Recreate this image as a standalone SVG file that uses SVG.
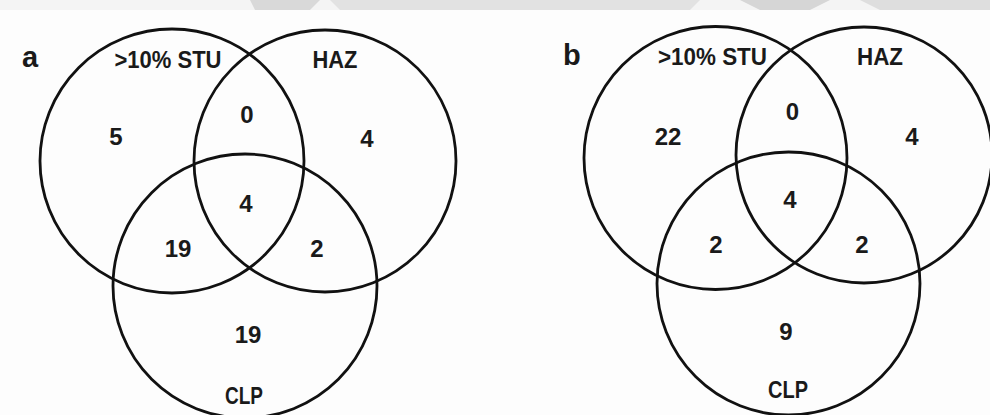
<svg xmlns="http://www.w3.org/2000/svg" width="990" height="415" viewBox="0 0 990 415">
<style>
.c{fill:none;stroke:#111;stroke-width:2.8}
.t{font-family:"Liberation Sans",Arial,sans-serif;font-weight:bold;font-size:24px;fill:#1a1a1a;text-anchor:middle}
.p{font-family:"Liberation Sans",Arial,sans-serif;font-weight:bold;font-size:29px;fill:#1a1a1a}
</style>
<rect width="990" height="415" fill="#fdfdfd"/>
<g id="watermark">
<rect x="0" y="0" width="990" height="10" fill="#f4f4f4"/>
<polygon points="250,0 320,0 310,10 255,10" fill="#d9d9d9"/>
<polygon points="330,0 700,0 690,10 340,10" fill="#e2e2e2"/>
<polygon points="740,0 830,0 810,10 760,10" fill="#d6d6d6"/>
<polygon points="860,0 990,0 990,10 880,10" fill="#dedede"/>
</g>
<g id="panel-a">
<text class="p" x="22" y="67">a</text>
<g id="a-stu"><circle class="c" cx="172" cy="161" r="132"/><text class="t" x="168" y="68" textLength="107" lengthAdjust="spacingAndGlyphs">&gt;10% STU</text></g>
<g id="a-haz"><circle class="c" cx="325" cy="161" r="131"/><text class="t" x="335" y="68" textLength="45" lengthAdjust="spacingAndGlyphs">HAZ</text></g>
<g id="a-clp"><circle class="c" cx="245" cy="286" r="132"/><text class="t" x="244" y="404" textLength="38" lengthAdjust="spacingAndGlyphs">CLP</text></g>
<g id="a-values">
<text class="t" x="116" y="145">5</text>
<text class="t" x="247" y="123">0</text>
<text class="t" x="367" y="147">4</text>
<text class="t" x="246" y="212">4</text>
<text class="t" x="178" y="257">19</text>
<text class="t" x="317" y="257">2</text>
<text class="t" x="248" y="343">19</text>
</g>
</g>
<g id="panel-b">
<text class="p" x="563" y="65">b</text>
<g id="b-stu"><circle class="c" cx="715.5" cy="158" r="131.5"/><text class="t" x="712.5" y="65" textLength="109" lengthAdjust="spacingAndGlyphs">&gt;10% STU</text></g>
<g id="b-haz"><circle class="c" cx="864" cy="155" r="128"/><text class="t" x="880" y="65" textLength="46" lengthAdjust="spacingAndGlyphs">HAZ</text></g>
<g id="b-clp"><circle class="c" cx="788.5" cy="283.5" r="131.5"/><text class="t" x="788" y="398" textLength="40" lengthAdjust="spacingAndGlyphs">CLP</text></g>
<g id="b-values">
<text class="t" x="668" y="145">22</text>
<text class="t" x="792.5" y="120">0</text>
<text class="t" x="912" y="145">4</text>
<text class="t" x="790" y="208">4</text>
<text class="t" x="716" y="253">2</text>
<text class="t" x="862" y="253">2</text>
<text class="t" x="786" y="340">9</text>
</g>
</g>
<g id="connectors"/>
</svg>
